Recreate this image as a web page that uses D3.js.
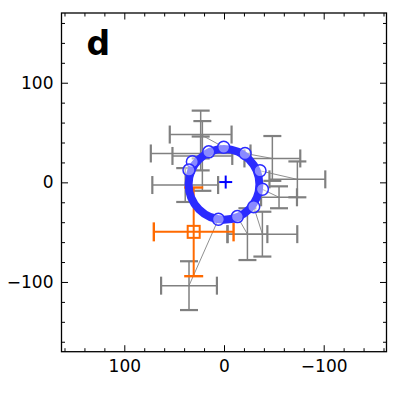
<!DOCTYPE html>
<html><head><meta charset="utf-8">
<script src="https://cdn.jsdelivr.net/npm/d3@7"></script>
<style>body{margin:0;background:#fff}</style>
</head><body>
<svg id="c" width="414" height="393"></svg>
<script>
// ---- data ----
const xDomain = [163, -163];
const yDomain = [-170, 170];
const majorTicks = [100, 0, -100];
const minorTicks = [-160, -140, -120, -80, -60, -40, -20, 20, 40, 60, 80, 120, 140, 160];
const panelLabel = "d";

// blue sampled points on the ring
const circleX = [31.7, 35.1, 15.3, 0.3, -21.1, -36.1, -38.5, -29.8, -13.4, 5.6];
const circleY = [20.6, 12.3, 30.6, 35.3, 29.0, 11.6, -7.0, -24.4, -34.4, -37.0];
// matched gray measurements (same order as circles)
const grayX    = [21.7, 38.9, 23.4, 23.4, -48.5, -73.6, -55.2, -38.5, -23.5, 35.1];
const grayY    = [26.5, -2.7, 29.0, 48.0, 24.0, 3.0, -15.0, -52.0, -52.0, -103.7];
const grayXerr = [30, 33, 50, 31, 28, 28, 18, 35, 20, 28];
const grayYerr = [35, 17, 17, 24, 22.5, 18, 11, 22.5, 26, 24.5];
// fitted ring
const ringCenter = [0, -2];
const ringRadius = [35.5];
// ring centre marker
const centerMark = [-1.7, 0.3];
// orange measurement
const orangeX = [30.4];
const orangeY = [-49.7];
const orangeXerr = [40];
const orangeYerr = [44.5];

// ---- layout ----
const L = 61.5, R = 386.5, T = 13, B = 351.7;
const svg = d3.select("#c");
const x = d3.scaleLinear().domain(xDomain).range([L, R]);
const y = d3.scaleLinear().domain(yDomain).range([B, T]);
const fmt = d3.format("d");
const font = "'DejaVu Sans', sans-serif";

const gray = "#808080", blue = "#2b2bff", orange = "#ff6a00";

const plot = svg.append("g");

// connectors
plot.selectAll("line.conn").data(circleX).join("line")
  .attr("x1", (d, i) => x(circleX[i])).attr("y1", (d, i) => y(circleY[i]))
  .attr("x2", (d, i) => x(grayX[i])).attr("y2", (d, i) => y(grayY[i]))
  .attr("stroke", "#909090").attr("stroke-width", 1);

// error bars
function errorbars(g, xs, ys, xe, ye, color, lw, cw, cap) {
  xs.forEach((v, i) => {
    const cx = x(v), cy = y(ys[i]);
    const xl = x(v + xe[i]), xr = x(v - xe[i]);
    const yt = y(ys[i] + ye[i]), yb = y(ys[i] - ye[i]);
    const gg = g.append("g").attr("stroke", color);
    gg.append("line").attr("x1", xl).attr("x2", xr).attr("y1", cy).attr("y2", cy).attr("stroke-width", lw);
    gg.append("line").attr("x1", cx).attr("x2", cx).attr("y1", yt).attr("y2", yb).attr("stroke-width", lw);
    [xl, xr].forEach(xx => gg.append("line").attr("x1", xx).attr("x2", xx)
      .attr("y1", cy - cap).attr("y2", cy + cap).attr("stroke-width", cw));
    [yt, yb].forEach(yy => gg.append("line").attr("y1", yy).attr("y2", yy)
      .attr("x1", cx - cap).attr("x2", cx + cap).attr("stroke-width", cw));
  });
}
errorbars(plot, grayX, grayY, grayXerr, grayYerr, gray, 1.5, 2.2, 9);
errorbars(plot, orangeX, orangeY, orangeXerr, orangeYerr, orange, 2, 2.4, 9.5);

// orange square marker
plot.selectAll("rect.o").data(orangeX).join("rect")
  .attr("x", (d, i) => x(d) - 6).attr("y", (d, i) => y(orangeY[i]) - 6)
  .attr("width", 12).attr("height", 12)
  .attr("fill", "none").attr("stroke", orange).attr("stroke-width", 2);

// ring
plot.append("ellipse")
  .attr("cx", x(ringCenter[0])).attr("cy", y(ringCenter[1]))
  .attr("rx", Math.abs(x(ringRadius[0]) - x(0)))
  .attr("ry", Math.abs(y(0) - y(ringRadius[0])))
  .attr("fill", "none").attr("stroke", blue).attr("stroke-width", 8);

// open circles
plot.selectAll("circle.s").data(circleX).join("circle")
  .attr("cx", d => x(d)).attr("cy", (d, i) => y(circleY[i])).attr("r", 6)
  .attr("fill", "#fff").attr("fill-opacity", 0.45)
  .attr("stroke", blue).attr("stroke-width", 1.5);

// centre plus
const pm = 6.5;
const pg = plot.append("g").attr("stroke", "#0000ff").attr("stroke-width", 2);
pg.append("line").attr("x1", x(centerMark[0]) - pm).attr("x2", x(centerMark[0]) + pm)
  .attr("y1", y(centerMark[1])).attr("y2", y(centerMark[1]));
pg.append("line").attr("y1", y(centerMark[1]) - pm).attr("y2", y(centerMark[1]) + pm)
  .attr("x1", x(centerMark[0])).attr("x2", x(centerMark[0]));

// ---- axes ----
function styleAxis(g) {
  g.select(".domain").remove();
  g.selectAll(".tick line").attr("stroke", "#000").attr("stroke-width", 1);
  g.selectAll("text").attr("font-family", font).attr("font-size", 17).attr("fill", "#000");
}
svg.append("g").attr("transform", `translate(0,${B})`)
  .call(d3.axisBottom(x).tickValues(majorTicks).tickSize(-6.5).tickPadding(8).tickFormat(fmt)).call(styleAxis);
svg.append("g").attr("transform", `translate(0,${B})`)
  .call(d3.axisBottom(x).tickValues(minorTicks).tickSize(-3.5).tickFormat("")).call(styleAxis);
svg.append("g").attr("transform", `translate(0,${T})`)
  .call(d3.axisTop(x).tickValues(majorTicks).tickSize(-6.5).tickFormat("")).call(styleAxis);
svg.append("g").attr("transform", `translate(0,${T})`)
  .call(d3.axisTop(x).tickValues(minorTicks).tickSize(-3.5).tickFormat("")).call(styleAxis);
svg.append("g").attr("transform", `translate(${L},0)`)
  .call(d3.axisLeft(y).tickValues(majorTicks).tickSize(-6.5).tickPadding(8).tickFormat(fmt)).call(styleAxis);
svg.append("g").attr("transform", `translate(${L},0)`)
  .call(d3.axisLeft(y).tickValues(minorTicks).tickSize(-3.5).tickFormat("")).call(styleAxis);
svg.append("g").attr("transform", `translate(${R},0)`)
  .call(d3.axisRight(y).tickValues(majorTicks).tickSize(-6.5).tickFormat("")).call(styleAxis);
svg.append("g").attr("transform", `translate(${R},0)`)
  .call(d3.axisRight(y).tickValues(minorTicks).tickSize(-3.5).tickFormat("")).call(styleAxis);

svg.append("rect").attr("x", L).attr("y", T).attr("width", R - L).attr("height", B - T)
  .attr("fill", "none").attr("stroke", "#000").attr("stroke-width", 1.3);

svg.append("text").attr("x", 86.5).attr("y", 55).text(panelLabel)
  .attr("font-family", font).attr("font-weight", "bold").attr("font-size", 33).attr("fill", "#000");
</script>
</body></html>
